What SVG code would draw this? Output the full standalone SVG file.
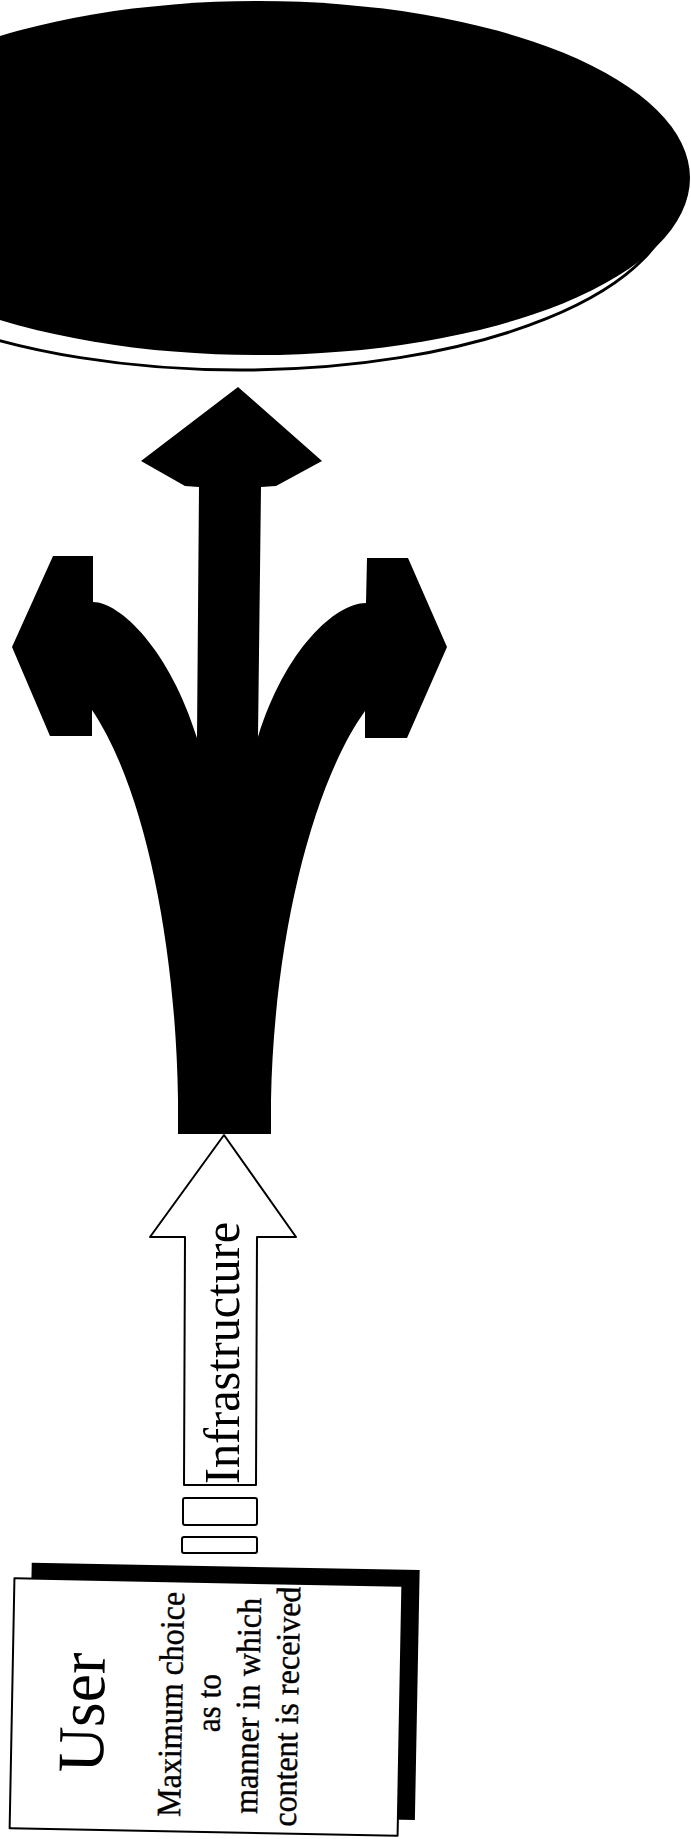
<svg xmlns="http://www.w3.org/2000/svg" width="691" height="1839" viewBox="0 0 691 1839">
<style>
.ink{fill:#000;stroke:none}
.outline{fill:#fff;stroke:#000;stroke-width:2;stroke-linejoin:round}
.txt{font-family:"Liberation Serif","Times New Roman",serif;fill:#000}
.body{font-size:34px;stroke:#000;stroke-width:0.4}
</style>
<rect width="691" height="1839" fill="#fff"/>
<g id="content-platform">
  <ellipse cx="240" cy="194" rx="434" ry="176" fill="#fff" stroke="#000" stroke-width="3"/>
  <ellipse class="ink" cx="258" cy="178" rx="432" ry="177"/>
</g>
<g id="delivery-routes">
  <path class="ink" d="M178,1134 L178,1100 C176,950 146,790 92,710 L92,736 L50,736 L12,647 L53,556 L93,556 L93,602 C120,602 170,650 197,738 L199,487 L185,486 L141,461 L238,387 L322,461 L276,486 L261,487 L258,737 C285,650 335,603 366,603 L367,558 L408,558 L447,647 L407,738 L365,738 L365,711 C312,785 274,940 271,1100 L271,1134 Z"/>
</g>
<g id="infrastructure">
  <polygon class="outline" points="224,1135 296,1237 257,1237 256,1485 184,1485 185,1237 150,1237"/>
  <text class="txt" font-size="51" textLength="262" lengthAdjust="spacingAndGlyphs" transform="translate(239,1484) rotate(-90)">Infrastructure</text>
</g>
<g id="connectors">
  <rect class="outline" x="183" y="1498" width="74" height="27" rx="2"/>
  <rect class="outline" x="182" y="1537" width="75" height="16" rx="2"/>
</g>
<g id="user" transform="rotate(1.1 206 1707)">
  <rect class="ink" x="29" y="1566" width="388" height="250"/>
  <rect class="outline" x="12" y="1582" width="388" height="250"/>
  <text class="txt" font-size="66" text-anchor="middle" textLength="120" lengthAdjust="spacingAndGlyphs" transform="translate(104,1715) rotate(-90)">User</text>
  <text class="txt body" text-anchor="middle" textLength="225" lengthAdjust="spacingAndGlyphs" transform="translate(182,1705) rotate(-90)">Maximum choice</text>
  <text class="txt body" text-anchor="middle" textLength="58" lengthAdjust="spacingAndGlyphs" transform="translate(220,1703) rotate(-90)">as to</text>
  <text class="txt body" text-anchor="middle" textLength="216" lengthAdjust="spacingAndGlyphs" transform="translate(259,1705) rotate(-90)">manner in which</text>
  <text class="txt body" text-anchor="middle" textLength="240" lengthAdjust="spacingAndGlyphs" transform="translate(298,1705) rotate(-90)">content is received</text>
</g>
</svg>
